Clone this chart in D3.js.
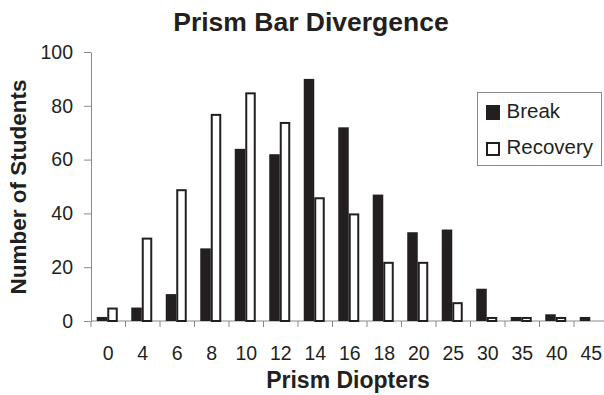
<!DOCTYPE html>
<html><head><meta charset="utf-8">
<script src="https://cdn.jsdelivr.net/npm/d3@7"></script>
<style>body{margin:0;background:#fff}svg{display:block;font-family:"Liberation Sans",Arial,Helvetica,sans-serif}</style>
</head><body><svg id="c" width="604" height="395"></svg>
<script>
const categories = ["0","4","6","8","10","12","14","16","18","20","25","30","35","40","45"];
const breakValues = [1.5,5,10,27,64,62,90,72,47,33,34,12,1.5,2.5,1.5];
const recoveryValues = [5,31,49,77,85,74,46,40,22,22,7,1.5,1.5,1.5,0];
const yTicks = [0,20,40,60,80,100];
const seriesNames = ["Break","Recovery"];

const svg = d3.select("#c");
const x = d3.scaleBand().domain(categories).range([91, 608.5]).padding(0);
const y = d3.scaleLinear().domain([0,100]).range([321, 52]);
const barW = 10.5;
const ink = "#231f20", axisCol = "#8a8a8a";

// title
svg.append("text").attr("x", 311).attr("y", 31).attr("text-anchor","middle")
  .attr("font-size", 26.5).attr("font-weight","bold").attr("fill", ink).text("Prism Bar Divergence");

// y axis
const yAxis = svg.append("g").attr("transform","translate(91,0)")
  .call(d3.axisLeft(y).tickValues(yTicks).tickSize(7).tickPadding(11).tickSizeOuter(0));
yAxis.select(".domain").attr("stroke", axisCol);
yAxis.selectAll(".tick line").attr("stroke", axisCol);
yAxis.selectAll("text").attr("font-size", 19.5).attr("fill", ink).attr("font-family", null);

// x axis line & boundary ticks
svg.append("line").attr("x1", 91).attr("x2", 608.5).attr("y1", y(0)).attr("y2", y(0)).attr("stroke", axisCol);
svg.selectAll(".xt").data(categories).join("line").attr("class","xt")
  .attr("x1", d => x(d)).attr("x2", d => x(d)).attr("y1", y(0)).attr("y2", y(0)+6).attr("stroke", axisCol);
svg.selectAll(".xl").data(categories).join("text").attr("class","xl")
  .attr("x", d => x(d) + x.bandwidth()/2).attr("y", 360).attr("text-anchor","middle")
  .attr("font-size", 19.5).attr("fill", ink).text(d => d);

// bars
const g = svg.append("g");
g.selectAll(".b").data(categories).join("rect").attr("class","b")
  .attr("x", d => x(d) + x.bandwidth()/2 - 1 - barW)
  .attr("y", (d,i) => y(breakValues[i])).attr("width", barW)
  .attr("height", (d,i) => y(0) - y(breakValues[i])).attr("fill", ink);
g.selectAll(".r").data(categories).join("rect").attr("class","r")
  .attr("x", d => x(d) + x.bandwidth()/2 - 1 + 1)
  .attr("y", (d,i) => y(recoveryValues[i]) + 1).attr("width", barW - 2)
  .attr("height", (d,i) => Math.max(0, y(0) - y(recoveryValues[i]) - 1))
  .attr("fill", "#fff").attr("stroke", ink).attr("stroke-width", 2)
  .attr("display", (d,i) => recoveryValues[i] > 0 ? null : "none");

// axis titles
svg.append("text").attr("x", 348).attr("y", 388).attr("text-anchor","middle")
  .attr("font-size", 23).attr("font-weight","bold").attr("fill", ink).text("Prism Diopters");
svg.append("text").attr("transform","translate(26,187) rotate(-90)").attr("text-anchor","middle")
  .attr("font-size", 22.5).attr("font-weight","bold").attr("fill", ink).text("Number of Students");

// legend
const lg = svg.append("g");
lg.append("rect").attr("x", 477.5).attr("y", 92.5).attr("width", 124).attr("height", 73)
  .attr("fill", "#fff").attr("stroke", axisCol);
lg.append("rect").attr("x", 486).attr("y", 105).attr("width", 14).attr("height", 15).attr("fill", ink);
lg.append("rect").attr("x", 487).attr("y", 143).attr("width", 12).attr("height", 12)
  .attr("fill", "#fff").attr("stroke", ink).attr("stroke-width", 2);
lg.selectAll(".lt").data(seriesNames).join("text").attr("class","lt")
  .attr("x", 506.5).attr("y", (d,i) => 118 + i*36).attr("font-size", 20.5).attr("fill", ink).text(d => d);
</script></body></html>
